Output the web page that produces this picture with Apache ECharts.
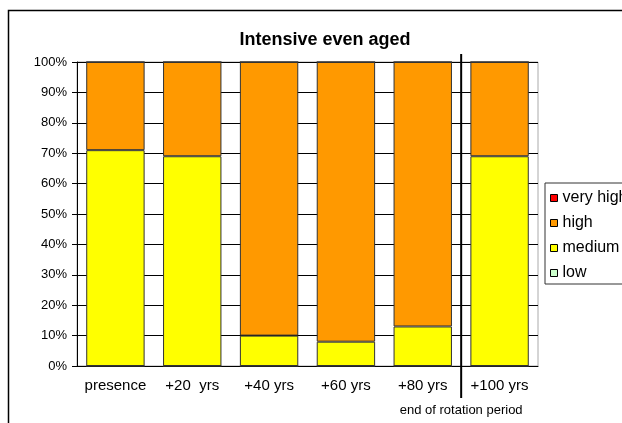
<!DOCTYPE html>
<html>
<head>
<meta charset="utf-8">
<script src="https://cdn.jsdelivr.net/npm/echarts@6/dist/echarts.min.js"></script>
<style>
  html, body { margin: 0; padding: 0; background: #fff; }
  #box { width: 622px; height: 423px; }
</style>
</head>
<body>
<div id="box"></div>
<script>
// data (percent of total)
const categories = ["presence", "+20  yrs", "+40 yrs", "+60 yrs", "+80 yrs", "+100 yrs"];
const low = [0, 0, 0, 0, 0, 0];
const medium = [71, 69, 10, 8, 13, 69];
const high = [29, 31, 90, 92, 87, 31];
const veryHigh = [0, 0, 0, 0, 0, 0];
const yTicks = [0, 10, 20, 30, 40, 50, 60, 70, 80, 90, 100];

const font = "Liberation Sans, Arial, sans-serif";
let myChart = echarts.init(document.getElementById("box"));

function bar(name, color, data) {
  return {
    name: name,
    type: "bar",
    stack: "all",
    barWidth: "76%",
    data: data,
    itemStyle: { color: color, borderColor: "#333", borderWidth: 1 },
  };
}

myChart.setOption({
  animation: false,
  title: {
    text: "Intensive even aged",
    left: 320,
    top: 26,
    textAlign: "center",
    textStyle: { fontFamily: font, fontSize: 18, fontWeight: "bold", color: "#000" },
  },
  grid: {
    left: 77,
    right: 84,
    top: 62,
    bottom: 57,
    show: true,
    borderColor: "#aaa",
    borderWidth: 1,
    backgroundColor: "#fff",
  },
  legend: {
    data: ["very high", "high", "medium", "low"],
    orient: "vertical",
    left: 545,
    top: 183,
    icon: "rect",
    itemWidth: 7,
    itemHeight: 7,
    itemGap: 9,
    padding: [7, 40, 3, 5],
    borderColor: "#333",
    borderWidth: 1,
    itemStyle: { borderColor: "#000", borderWidth: 1 },
    textStyle: { fontFamily: font, fontSize: 16, color: "#000" },
  },
  xAxis: {
    type: "category",
    data: categories,
    axisLine: { lineStyle: { color: "#000" } },
    axisTick: { alignWithLabel: false, length: 6, lineStyle: { color: "#000" } },
    axisLabel: { margin: 12, fontFamily: font, fontSize: 15, color: "#000", interval: 0 },
  },
  yAxis: {
    type: "value",
    min: yTicks[0],
    max: yTicks[yTicks.length - 1],
    interval: 10,
    axisLine: { show: true, lineStyle: { color: "#000" } },
    axisTick: { show: true, length: 5, lineStyle: { color: "#000" } },
    splitLine: { lineStyle: { color: "#000" } },
    axisLabel: { margin: 10, fontFamily: font, fontSize: 13, color: "#000", formatter: "{value}%" },
  },
  series: [
    bar("low", "#CCFFCC", low),
    bar("medium", "#FFFF00", medium),
    bar("high", "#FF9900", high),
    bar("very high", "#FF0000", veryHigh),
  ],
});

// separator between +80 and +100 yrs, placed from the axis scale
const x4 = myChart.convertToPixel({ xAxisIndex: 0 }, 4);
const x5 = myChart.convertToPixel({ xAxisIndex: 0 }, 5);
const sepX = (x4 + x5) / 2;
const yTop = myChart.convertToPixel({ yAxisIndex: 0 }, 100);
const yBottom = myChart.convertToPixel({ yAxisIndex: 0 }, 0);

myChart.setOption({
  graphic: [
    {
      type: "rect",
      silent: true,
      shape: { x: 8.5, y: 10.5, width: 700, height: 500 },
      style: { fill: null, stroke: "#000", lineWidth: 1.5 },
    },
    {
      type: "line",
      silent: true,
      z: 100,
      shape: { x1: sepX, y1: yTop - 8, x2: sepX, y2: yBottom + 32 },
      style: { stroke: "#000", lineWidth: 2 },
    },
    {
      type: "text",
      silent: true,
      x: sepX,
      y: yBottom + 44,
      style: {
        text: "end of rotation period",
        fontFamily: font,
        fontSize: 13,
        fill: "#000",
        align: "center",
        verticalAlign: "middle",
      },
    },
  ],
});
</script>
</body>
</html>
